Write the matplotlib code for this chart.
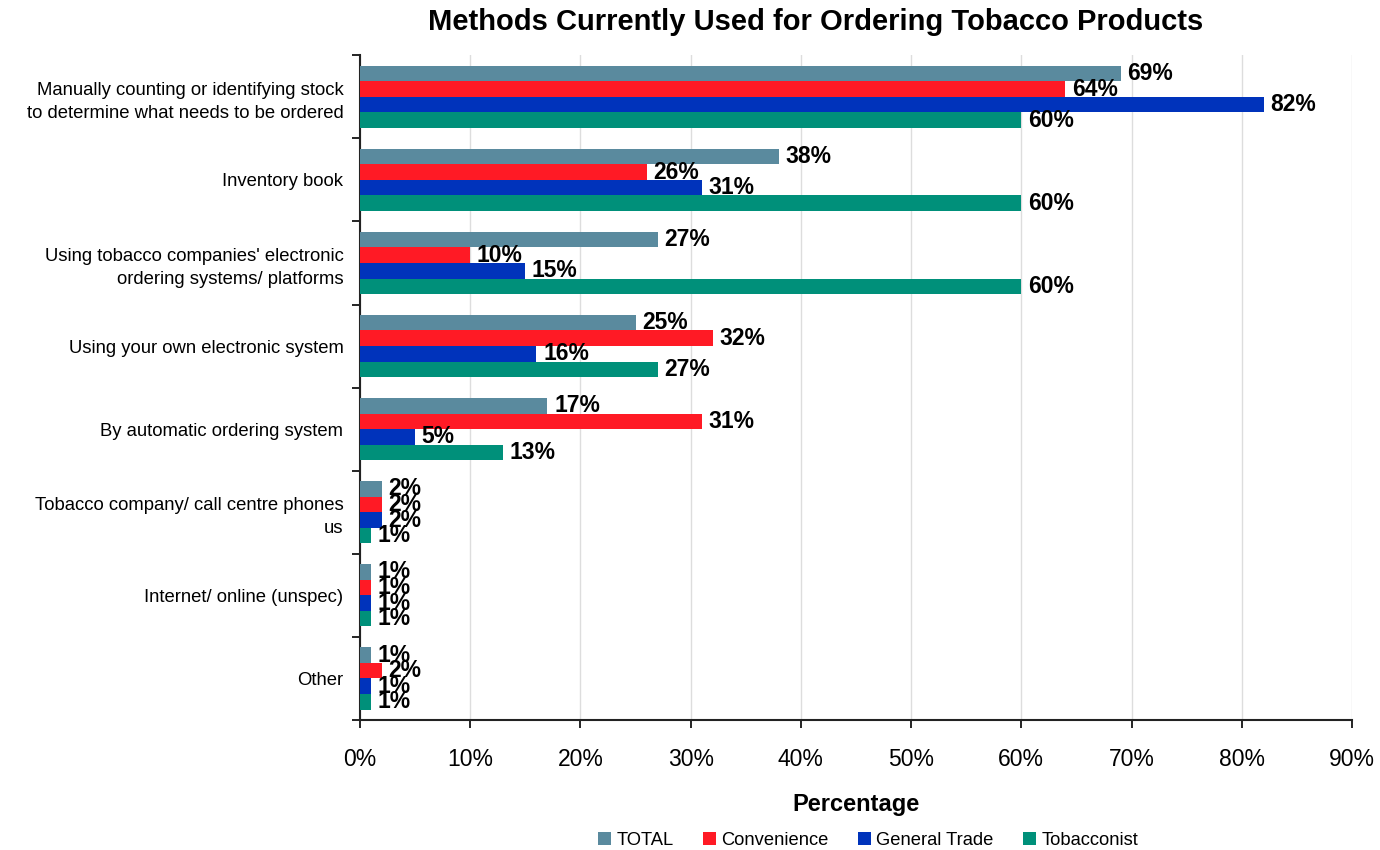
import matplotlib.pyplot as plt
import numpy as np
from matplotlib.ticker import MultipleLocator, PercentFormatter

plt.rcParams["font.family"] = ["Liberation Sans", "DejaVu Sans"]

categories = [
    "Manually counting or identifying stock\nto determine what needs to be ordered",
    "Inventory book",
    "Using tobacco companies' electronic\nordering systems/ platforms",
    "Using your own electronic system",
    "By automatic ordering system",
    "Tobacco company/ call centre phones\nus",
    "Internet/ online (unspec)",
    "Other",
]
series_names = ["TOTAL", "Convenience", "General Trade", "Tobacconist"]
total = [69, 38, 27, 25, 17, 2, 1, 1]
convenience = [64, 26, 10, 32, 31, 2, 1, 2]
general_trade = [82, 31, 15, 16, 5, 2, 1, 1]
tobacconist = [60, 60, 60, 27, 13, 1, 1, 1]
colors = ["#5A8A9E", "#FF1A25", "#0033BB", "#00907A"]

fig = plt.figure(figsize=(13.8, 8.5), dpi=100)
ax = fig.add_axes([0.2609, 0.153, 0.7188, 0.782])

n = len(categories)
y = np.arange(n)
bar_h = 0.1875
for i, (name, vals, col) in enumerate(
    zip(series_names, [total, convenience, general_trade, tobacconist], colors)
):
    pos = y - 0.375 + bar_h * (i + 0.5)
    ax.barh(pos, vals, height=bar_h, color=col, label=name, zorder=3)
    for p, v in zip(pos, vals):
        ax.text(v + 0.6, p, f"{v}%", va="center", ha="left",
                fontsize=16.5, fontweight="bold", zorder=4)

ax.set_ylim(n - 0.5, -0.5)
ax.set_xlim(0, 90)
ax.xaxis.set_major_locator(MultipleLocator(10))
ax.xaxis.set_major_formatter(PercentFormatter(decimals=0))
ax.set_yticks(y)
ax.set_yticklabels(categories, fontsize=13.3, linespacing=1.45)
ax.set_yticks(np.arange(n + 1) - 0.5, minor=True)
ax.tick_params(axis="y", which="major", length=0, pad=12)
ax.tick_params(axis="y", which="minor", length=6, width=1.2, direction="out")
ax.tick_params(axis="x", labelsize=16.5, length=6, width=1.2, direction="out", pad=14)

ax.grid(axis="x", color="#DDDDDD", linewidth=1, zorder=0)
for s in ["top", "right"]:
    ax.spines[s].set_visible(False)
for s in ["left", "bottom"]:
    ax.spines[s].set_linewidth(1.5)
    ax.spines[s].set_color("#222222")

ax.set_xlabel("Percentage", fontsize=17, fontweight="bold", labelpad=16)
fig.text(0.591, 0.974, "Methods Currently Used for Ordering Tobacco Products",
         ha="center", va="center", fontsize=21, fontweight="bold")

fig.legend(loc="center", bbox_to_anchor=(0.629, 0.011), ncol=4,
           frameon=False, fontsize=13.2, handlelength=0.7, handleheight=0.7,
           handletextpad=0.3, columnspacing=1.6)

fig.savefig("out.png", dpi=100)
plt.close(fig)
